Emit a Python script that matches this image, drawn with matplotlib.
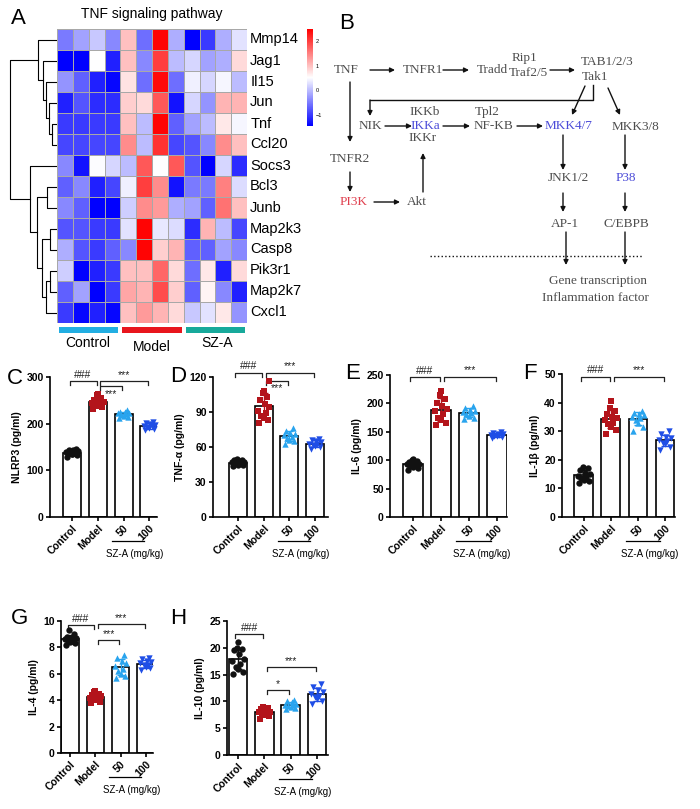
import matplotlib.pyplot as plt
import numpy as np
from matplotlib.colors import LinearSegmentedColormap
from matplotlib.transforms import blended_transform_factory

plt.rcParams['font.family'] = ['Liberation Sans', 'DejaVu Sans']
W, H = 700, 809

# ---------------- data ----------------
genes = ['Mmp14', 'Jag1', 'Il15', 'Jun', 'Tnf', 'Ccl20', 'Socs3', 'Bcl3',
         'Junb', 'Map2k3', 'Casp8', 'Pik3r1', 'Map2k7', 'Cxcl1']
hm = np.array([
    [-0.5, -0.2, 0.1, -0.4, 1.0, -0.6, 2.45, -0.1, -1.45, -1.0, -0.1, 0.3],
    [-1.45, -1.45, 0.52, -1.2, 1.0, -0.4, 2.0, 0.0, 0.2, -0.2, -0.1, 0.8],
    [-0.3, -0.7, -1.2, -1.4, 0.75, -0.6, 2.4, -0.6, 0.4, 0.2, 0.45, 0.0],
    [-1.2, -0.8, -1.1, -1.1, 0.9, 0.8, 1.8, -1.3, 0.2, -0.3, 1.1, 1.1],
    [-1.0, -1.0, -1.0, -1.0, 1.0, 0.0, 2.45, -0.7, -0.2, 0.0, 0.7, 0.45],
    [-0.9, -0.9, -0.9, -0.9, 1.4, 0.0, 2.1, -0.9, -0.8, -0.4, 1.4, 1.0],
    [-0.4, -1.3, 0.5, 0.2, 0.0, 1.8, 0.52, 1.8, -0.8, -1.45, 0.2, -1.1],
    [-0.7, -0.4, -1.2, -0.9, 0.4, 2.0, 1.4, -1.3, -0.5, -0.5, 1.5, 0.25],
    [-0.4, -0.7, -1.45, -1.45, 0.15, 1.4, 1.3, -0.1, -0.2, -0.7, 1.6, 1.0],
    [-0.8, -0.8, -1.0, -1.0, 0.3, 2.45, 0.35, 0.25, -1.1, 1.1, 0.0, -0.9],
    [-0.1, -0.8, -1.0, -0.7, -0.4, 2.45, 0.9, 1.1, -0.7, -0.7, -0.2, -0.4],
    [0.15, -1.45, -1.2, -1.0, 1.0, 1.0, 1.7, 0.8, -0.6, 0.7, -1.2, 0.8],
    [-0.7, -0.2, -1.45, -1.0, 1.2, 1.1, 1.9, 0.9, -0.7, 0.6, -0.4, -1.2],
    [-1.0, -1.4, -1.2, -1.4, 1.0, 1.3, 1.1, 0.8, 0.1, 0.3, 0.7, -0.3],
])
# row dendrogram merges: (child a, child b, height); leaves 0..13, clusters 14..
linkage = [(4, 5, 5), (3, 14, 8), (2, 15, 11), (1, 16, 14), (0, 17, 19),
           (7, 8, 10), (9, 10, 7), (11, 12, 7), (21, 13, 11), (20, 22, 15),
           (19, 23, 20), (6, 24, 27), (18, 25, 47)]
group_names = ['Control', 'Model', 'SZ-A']
group_colors = ['#22aee2', '#e8151d', '#17a99b']

categories = ['Control', 'Model', '50', '100']
nlrp3 = [[128, 132, 135, 137, 139, 140, 141, 143, 144, 146, 138, 134],
         [232, 236, 238, 240, 243, 245, 246, 248, 250, 255, 262, 264],
         [212, 215, 217, 219, 220, 222, 223, 225, 226, 229],
         [186, 189, 191, 193, 194, 196, 197, 199, 201, 204]]
tnfa = [[43.5, 44.5, 45.5, 46, 46.5, 47, 47.5, 48, 48.5, 49, 49.5, 45],
        [81, 83, 85, 87, 89, 91, 94, 97, 100, 103, 106, 108, 117],
        [63, 65, 66, 68, 69, 70, 71, 72, 74, 76],
        [58.5, 60, 61, 62, 62.5, 63, 64, 65, 66, 67]]
il6 = [[83, 86, 88, 90, 92, 93, 94, 95, 97, 99, 101, 102],
       [162, 165, 170, 175, 181, 186, 191, 196, 201, 207, 214, 222],
       [172, 175, 178, 181, 183, 185, 187, 189, 192, 195],
       [139, 141, 142, 143, 144, 145, 146, 147, 148, 150]]
il1b = [[12, 12.5, 13, 13.5, 14, 14.5, 15, 15.5, 16.5, 17, 17.5, 13.8],
        [29, 30.5, 31.5, 32.5, 33, 34, 34.5, 35, 36, 37, 38, 40.5],
        [30, 31.5, 33, 34, 34.5, 35, 35.5, 36, 36.5, 37],
        [23.5, 24.5, 25.5, 26, 26.5, 27, 27.5, 28, 29, 30]]
il4 = [[8.2, 8.3, 8.4, 8.45, 8.5, 8.6, 8.7, 8.75, 8.8, 9.0, 9.3, 8.55],
       [3.8, 3.9, 4.0, 4.1, 4.15, 4.2, 4.3, 4.35, 4.4, 4.5, 4.6, 4.7],
       [5.7, 5.8, 6.0, 6.2, 6.4, 6.6, 6.8, 7.0, 7.2, 7.4],
       [6.3, 6.45, 6.55, 6.65, 6.7, 6.8, 6.9, 7.0, 7.1, 7.2]]
il10 = [[15.2, 15.5, 16.0, 16.5, 17.0, 17.5, 18.0, 18.8, 19.5, 19.8, 20.0, 21.0],
        [6.8, 7.2, 7.5, 7.7, 7.9, 8.0, 8.1, 8.3, 8.5, 8.7, 9.0],
        [8.6, 8.8, 9.0, 9.2, 9.3, 9.4, 9.6, 9.8, 10.0, 10.2],
        [9.5, 10.0, 10.4, 10.8, 11.1, 11.4, 11.8, 12.2, 12.7, 13.3]]

# significance: (group a, group b, y, label, text side)
sig_C = [(0, 1, 291, '###', 'up'), (1, 3, 291, '***', 'up'), (1, 2, 281, '***', 'down')]
sig_D = [(0, 1, 123.7, '###', 'up'), (1, 3, 123.7, '***', 'up'), (1, 2, 116.8, '***', 'down')]
sig_E = [(0, 1, 246.5, '###', 'up'), (1, 3, 246.5, '***', 'up')]
sig_F = [(0, 1, 49, '###', 'up'), (1, 3, 49, '***', 'up')]
sig_G = [(0, 1, 9.7, '###', 'up'), (1, 3, 9.77, '***', 'up'), (1, 2, 8.56, '***', 'up')]
sig_H = [(0, 1, 22.6, '###', 'up'), (1, 3, 16.4, '***', 'up'), (1, 2, 12.1, '*', 'up')]

pt_colors = ['#111111', '#b3141b', '#29a4ee', '#1f4ee6']
pt_markers = ['o', 's', '^', 'v']
jitter = np.array([-0.18, 0.18, 0.0, -0.09, 0.09, -0.22, 0.22, 0.04, -0.14, 0.14, -0.04, 0.0, 0.2])

fig = plt.figure(figsize=(W / 100, H / 100), dpi=100)


def px_axes(x0, y0, x1, y1):
    return fig.add_axes([x0 / W, 1 - y1 / H, (x1 - x0) / W, (y1 - y0) / H])


# ---------------- A: heatmap ----------------
cmap = LinearSegmentedColormap.from_list('bwr2', ['#0000ff', '#ffffff', '#ff0000'])
ax_hm = px_axes(57, 29, 247, 323)
mesh = ax_hm.pcolormesh(hm, cmap=cmap, vmin=-1.45, vmax=2.49,
                        edgecolors='#a8a8a8', linewidth=0.6)
ax_hm.set_xlim(0, 12)
ax_hm.set_ylim(14, 0)
ax_hm.axis('off')
for i, g in enumerate(genes):
    ax_hm.text(12.2, i + 0.5, g, va='center', ha='left', fontsize=10.5)
ax_hm.text(6, -0.7, 'TNF signaling pathway', ha='center', va='center', fontsize=10)

# dendrogram
ax_dg = px_axes(5, 29, 57, 323)
pos = {i: (i + 0.5, 0.0) for i in range(len(genes))}
for k, (a, b, h) in enumerate(linkage):
    ya, ha_ = pos[a]
    yb, hb = pos[b]
    ax_dg.plot([ha_, h, h, hb], [ya, ya, yb, yb], color='k', lw=0.8)
    pos[len(genes) + k] = ((ya + yb) / 2, h)
ax_dg.set_xlim(52, 0)
ax_dg.set_ylim(14, 0)
ax_dg.axis('off')

# group bar
ax_grp = px_axes(57, 327, 247, 333)
ax_grp.bar([2, 6, 10], [1, 1, 1], width=3.75, color=group_colors)
ax_grp.set_xlim(0, 12)
ax_grp.set_ylim(0, 1)
ax_grp.axis('off')

# colorbar
ax_cb = px_axes(307, 29, 313, 126)
cb = fig.colorbar(mesh, cax=ax_cb, ticks=[-1, 0, 1, 2])
cb.outline.set_visible(False)
cb.ax.tick_params(labelsize=4, length=0, pad=2)

# ---------------- C-H: bar charts ----------------


def bar_panel(box, groups, ylabel, ylim, yticks, sigs, xlim):
    x0, y0, x1, y1 = box
    ax = px_axes(x0, y0, x1, y1)
    for i, vals in enumerate(groups):
        vals = np.asarray(vals, dtype=float)
        m, sd = vals.mean(), vals.std(ddof=1)
        ax.bar(i, m, width=0.7, color='white', edgecolor='black', lw=1.2, zorder=1)
        ax.scatter(i + jitter[:len(vals)], vals, marker=pt_markers[i], s=21,
                   color=pt_colors[i], linewidths=0, zorder=3, clip_on=False)
        ax.errorbar(i, m, yerr=sd, color=pt_colors[i], capsize=3, lw=1,
                    capthick=1, zorder=4)
    ax.set_xlim(*xlim)
    ax.set_ylim(*ylim)
    ax.set_yticks(yticks)
    ax.set_xticks(range(4))
    ax.set_xticklabels(categories, rotation=45, ha='right', rotation_mode='anchor',
                       fontsize=7.5, fontweight='bold')
    for lab in ax.get_yticklabels():
        lab.set_fontweight('bold')
        lab.set_fontsize(7.5)
    ax.set_ylabel(ylabel, fontsize=7.5, fontweight='bold', labelpad=3)
    for s in ['top', 'right']:
        ax.spines[s].set_visible(False)
    for s in ['left', 'bottom']:
        ax.spines[s].set_linewidth(1.2)
    ax.tick_params(width=1.2, length=3, pad=1.5)
    span = ylim[1] - ylim[0]
    leg = span * 0.028
    for a, b, y, lab, side in sigs:
        xa = a - 0.1 if a == 0 else a + 0.1
        xb = b - 0.05
        ax.plot([xa, xa, xb, xb], [y - leg, y, y, y - leg], color='#222222',
                lw=0.9, clip_on=False)
        if side == 'up':
            ax.text((xa + xb) / 2, y + span * 0.01, lab, ha='center', va='bottom',
                    fontsize=7.5, color='#222222')
        else:
            ax.text((xa + xb) / 2, y - span * 0.02, lab, ha='center', va='top',
                    fontsize=7.5, color='#222222')
    tr = blended_transform_factory(ax.transData, ax.transAxes)
    hpx = y1 - y0
    ax.plot([1.55, 2.8], [-24 / hpx, -24 / hpx], color='black', lw=0.9,
            transform=tr, clip_on=False)
    ax.text(2.45, -37 / hpx, 'SZ-A (mg/kg)', ha='center', va='center',
            fontsize=7, transform=tr)
    return ax


bar_panel((50, 377, 157, 517), nlrp3, 'NLRP3 (pg/ml)', (0, 300),
          [0, 100, 200, 300], sig_C, (-0.86, 3.3))
bar_panel((213, 377, 328, 517), tnfa, 'TNF-α (pg/ml)', (0, 120),
          [0, 30, 60, 90, 120], sig_D, (-0.97, 3.5))
bar_panel((390, 375, 507, 517), il6, 'IL-6 (pg/ml)', (0, 250),
          [0, 50, 100, 150, 200, 250], sig_E, (-0.82, 3.36))
bar_panel((562, 374, 675, 517), il1b, 'IL-1β (pg/ml)', (0, 50),
          [0, 10, 20, 30, 40, 50], sig_F, (-0.81, 3.37))
bar_panel((61, 621, 153, 753), il4, 'IL-4 (pg/ml)', (0, 10),
          [0, 2, 4, 6, 8, 10], sig_G, (-0.36, 3.28))
bar_panel((227, 621, 328, 755), il10, 'IL-10 (pg/ml)', (0, 25),
          [0, 5, 10, 15, 20, 25], sig_H, (-0.42, 3.42))

# ---------------- overlay: labels and pathway (B) ----------------
ov = fig.add_axes([0, 0, 1, 1])
ov.set_xlim(0, W)
ov.set_ylim(H, 0)
ov.axis('off')

for lab, x, y in [('A', 18, 18), ('B', 347, 23), ('C', 15, 378), ('D', 178, 376),
                  ('E', 353, 373), ('F', 530, 373), ('G', 20, 618), ('H', 178, 618)]:
    ov.text(x, y, lab, fontsize=16, ha='center', va='center')

for name, x, y in [('Control', 88, 343), ('Model', 152, 347), ('SZ-A', 217, 343)]:
    ov.text(x, y, name, fontsize=10, ha='center', va='center')

gray, blue, red = '#4d4d4d', '#4b4bd8', '#e0404f'
nodes = [('TNF', 346, 70, gray), ('TNFR1', 423, 70, gray), ('Tradd', 492, 70, gray),
         ('Rip1', 524, 58, gray), ('Traf2/5', 528, 73, gray), ('TAB1/2/3', 607, 62, gray),
         ('Tak1', 595, 77, gray), ('NIK', 370, 126, gray), ('IKKb', 425, 112, gray),
         ('IKKa', 425, 126, blue), ('IKKr', 423, 138, gray), ('Tpl2', 487, 112, gray),
         ('NF-KB', 493, 126, gray), ('MKK4/7', 569, 126, blue), ('MKK3/8', 635, 127, gray),
         ('TNFR2', 350, 159, gray), ('PI3K', 354, 202, red), ('Akt', 417, 202, gray),
         ('JNK1/2', 568, 178, gray), ('P38', 626, 178, blue), ('AP-1', 565, 224, gray),
         ('C/EBPB', 626, 224, gray), ('Gene transcription', 598, 281, gray),
         ('Inflammation factor', 595, 298, gray)]
for name, x, y, c in nodes:
    ov.text(x, y, name, ha='center', va='center', fontsize=9.5, color=c,
            family=['Liberation Serif', 'DejaVu Serif'])

arrows = [(370, 70, 395, 70), (443, 70, 469, 70), (550, 70, 575, 70),
          (350, 82, 350, 142), (350, 172, 350, 192), (374, 202, 400, 202),
          (423, 192, 423, 153), (385, 126, 412, 126), (443, 126, 470, 126),
          (517, 126, 543, 126), (585, 86, 572, 115), (608, 88, 620, 115),
          (563, 135, 563, 170), (563, 193, 563, 212), (625, 135, 625, 170),
          (625, 193, 625, 212), (566, 232, 566, 265), (625, 232, 625, 265),
          (370, 100, 370, 116)]
for xa, ya, xb, yb in arrows:
    ov.annotate('', xy=(xb, yb), xytext=(xa, ya),
                arrowprops=dict(arrowstyle='-|>', lw=1, color='#111111',
                                mutation_scale=7, shrinkA=0, shrinkB=0))
ov.plot([593, 593, 370], [85, 100, 100], color='#111111', lw=1)
ov.plot([430, 642], [256, 256], color='#111111', lw=1, linestyle=':')

fig.savefig('out.png', dpi=100)
